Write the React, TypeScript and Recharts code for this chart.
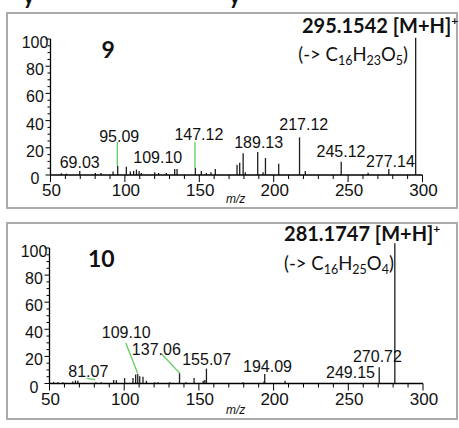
import React from 'react';
import { BarChart, Bar, XAxis, YAxis, ReferenceLine, ReferenceDot } from 'recharts';

// MS/MS spectrum of compound 9 (m/z, relative intensity %)
const mz9 = [57.0, 60.4, 69.4, 79.9, 83.7, 91.8, 94.9, 100.7, 103.4, 105.6, 107.5, 109.3, 110.8, 119.8, 122.4, 127.6, 133.2, 134.8, 147.1, 151.1, 154.5, 157.6, 160.5, 175.1, 176.9, 179.2, 180.7, 189.0, 192.6, 194.2, 203.1, 217.1, 221.0, 245.1, 263.2, 277.1, 295.15];
const int9 = [1.2, 1, 3, 1.5, 1.5, 2.5, 6.6, 6, 2.5, 3, 4, 3, 1.5, 2, 1.5, 1.5, 4.4, 4.4, 5.4, 3, 1.5, 2, 4.4, 7.5, 9, 16, 2, 17, 2, 12.5, 8.3, 27.7, 3, 9.8, 1.7, 4.4, 101];

// MS/MS spectrum of compound 10
const mz10 = [52.7, 55.6, 59.0, 65.6, 67.4, 69.0, 81.07, 84.7, 93.0, 94.8, 100.3, 105.9, 107.7, 109.1, 110.4, 112.6, 114.9, 120.5, 122.7, 130.5, 137.06, 141.3, 146.8, 152.9, 154.0, 155.07, 179.5, 193.6, 194.09, 207.7, 270.72, 281.17];
const int10 = [1, 1, 1, 1.5, 2.2, 2, 1, 1, 2.5, 2.5, 4, 4, 6.6, 7, 5.4, 5, 2, 1, 1, 1, 7.8, 1, 4, 2, 2.5, 11, 1, 1.5, 7, 2, 12, 103.5];

const X_TICKS = [50, 60, 70, 80, 90, 100, 110, 120, 130, 140, 150, 160, 170, 180, 190, 200, 210, 220, 230, 240, 250, 260, 270, 280, 290, 300];
const Y_TICKS = [0, 5, 10, 15, 20, 25, 30, 35, 40, 45, 50, 55, 60, 65, 70, 75, 80, 85, 90, 95, 100];

// peak annotations: text, anchor m/z (centre), anchor intensity (baseline)
const peakLabels9 = [
  { text: '69.03', mz: 69.6, at: 4.9 },
  { text: '95.09', mz: 96.2, at: 24.5 },
  { text: '109.10', mz: 122.1, at: 8.6 },
  { text: '147.12', mz: 149.7, at: 25.7 },
  { text: '189.13', mz: 189.9, at: 19.6 },
  { text: '217.12', mz: 220.2, at: 33.1 },
  { text: '245.12', mz: 245.2, at: 13.5 },
  { text: '277.14', mz: 278.4, at: 6.1 },
];
const peakLabels10 = [
  { text: '81.07', mz: 76.0, at: 4.8 },
  { text: '109.10', mz: 101.4, at: 33.4 },
  { text: '137.06', mz: 121.5, at: 21 },
  { text: '155.07', mz: 155.2, at: 13.7 },
  { text: '194.09', mz: 195.9, at: 8.3 },
  { text: '249.15', mz: 251.5, at: 3.8 },
  { text: '270.72', mz: 269.5, at: 15.6 },
];

// green leader lines [x1, y1, x2, y2]
const leaders9 = [
  [94.9, 6.6, 94.9, 24.3],
  [147.1, 5.4, 147.1, 24.3],
];
const leaders10 = [
  [74.9, 3.8, 80.5, 2.8],
  [101.0, 30.1, 109.0, 7.5],
  [125.1, 21.8, 137.3, 7.5],
];

const FONT = '"Liberation Sans", Arial, sans-serif';
const CAL = 'Lato, "Open Sans", sans-serif';

const Stick = (props: any) => {
  const { x, y, width, height } = props;
  if (!isFinite(x) || !isFinite(y)) return <g />;
  const cx = x + width / 2;
  return <line x1={cx} x2={cx} y1={y} y2={y + height} stroke="#1e1e1e" strokeWidth={1.3} />;
};

const YTick = (props: any) => {
  const { x, y, payload } = props;
  const major = payload.value % 20 === 0;
  return (
    <g>
      <line x1={x - (major ? 5 : 3)} x2={x} y1={y} y2={y} stroke="#000" strokeWidth={1} />
      {major && (
        <text x={x - 15.5} y={y + 9} textAnchor="middle" fontFamily={FONT} fontSize={16} fill="#111">
          {payload.value}
        </text>
      )}
    </g>
  );
};

const XTick = (props: any) => {
  const { x, y, payload } = props;
  const major = payload.value % 50 === 0;
  return (
    <g>
      <line x1={x} x2={x} y1={y} y2={y + (major ? 7 : 4)} stroke="#000" strokeWidth={1} />
      {major && (
        <text x={x + 1} y={y + 21} textAnchor="middle" fontFamily={FONT} fontSize={17} fill="#111">
          {payload.value}
        </text>
      )}
    </g>
  );
};

const peakText = (text: string) => (p: any) => (
  <text x={p.viewBox.x} y={p.viewBox.y} textAnchor="middle" fontFamily={FONT} fontSize={16} fill="#111">
    {text}
  </text>
);

const titleText = (text: string) => (p: any) => (
  <text x={p.viewBox.x} y={p.viewBox.y} textAnchor="middle" fontFamily={CAL} fontWeight={700} fontSize={23} fill="#111">
    {text}
  </text>
);

const ionText = (mass: string) => (p: any) => (
  <text x={p.viewBox.x} y={p.viewBox.y} fontFamily={CAL} fontWeight={700} fontSize={20} fill="#111">
    {mass} [M+H]<tspan dy={-8} fontSize={12}>+</tspan>
  </text>
);

const formulaText = (parts: string[]) => (p: any) => (
  <text x={p.viewBox.x} y={p.viewBox.y} fontFamily={CAL} fontSize={18.5} fill="#111">
    {'(-> C'}
    <tspan dy={4} fontSize={12.5}>{parts[0]}</tspan>
    <tspan dy={-4}>H</tspan>
    <tspan dy={4} fontSize={12.5}>{parts[1]}</tspan>
    <tspan dy={-4}>O</tspan>
    <tspan dy={4} fontSize={12.5}>{parts[2]}</tspan>
    <tspan dy={-4}>)</tspan>
  </text>
);

const Spectrum = ({ mz, inten, labels, leaders, title, titleAt, ion, ionAt, formula, formulaAt, top, height, margin }: any) => {
  const data = mz.map((m: number, i: number) => ({ mz: m, v: inten[i] }));
  return (
    <div style={{ position: 'absolute', left: 0, top }}>
      <BarChart width={459} height={height} data={data} margin={margin} barSize={1}>
        <XAxis
          dataKey="mz"
          type="number"
          domain={[50, 300]}
          ticks={X_TICKS}
          interval={0}
          tickSize={0}
          tickMargin={0}
          tickLine={false}
          tick={XTick}
          axisLine={{ stroke: '#000', strokeWidth: 1.3 }}
          height={30}
        />
        <YAxis
          type="number"
          domain={[0, 105]}
          ticks={Y_TICKS}
          interval={0}
          tickSize={0}
          tickMargin={0}
          tickLine={false}
          tick={YTick}
          axisLine={false}
          width={40}
        />
        <ReferenceLine segment={[{ x: 50, y: 0 }, { x: 50, y: 100 }]} stroke="#000" strokeWidth={1.3} />
        <Bar dataKey="v" shape={Stick} isAnimationActive={false} />
        {leaders.map((l: number[], i: number) => (
          <ReferenceLine
            key={'l' + i}
            segment={[{ x: l[0], y: l[1] }, { x: l[2], y: l[3] }]}
            stroke="#5fcf5f"
            strokeWidth={1.3}
            ifOverflow="visible"
          />
        ))}
        {labels.map((l: any, i: number) => (
          <ReferenceDot key={'p' + i} x={l.mz} y={l.at} r={0} fill="none" stroke="none" ifOverflow="visible" label={peakText(l.text)} />
        ))}
        <ReferenceDot x={titleAt[0]} y={titleAt[1]} r={0} fill="none" stroke="none" ifOverflow="visible" label={titleText(title)} />
        <ReferenceDot x={ionAt[0]} y={ionAt[1]} r={0} fill="none" stroke="none" ifOverflow="visible" label={ionText(ion)} />
        <ReferenceDot x={formulaAt[0]} y={formulaAt[1]} r={0} fill="none" stroke="none" ifOverflow="visible" label={formulaText(formula)} />
      </BarChart>
    </div>
  );
};

const boxStyle = (top: number, height: number): React.CSSProperties => ({
  position: 'absolute',
  left: 6,
  top,
  width: 452,
  height,
  boxSizing: 'border-box',
  border: '2px solid #ababab',
});

const mzStyle = (top: number): React.CSSProperties => ({
  position: 'absolute',
  left: 226,
  top,
  fontFamily: FONT,
  fontStyle: 'italic',
  fontSize: 12,
  color: '#111',
  lineHeight: '14px',
});

export default function App() {
  return (
    <div style={{ position: 'absolute', left: 0, top: 0, width: 459, height: 428, background: '#fff', overflow: 'hidden' }}>
      {/* descenders of the caption line above, cut by the image edge */}
      <svg width={459} height={12} style={{ position: 'absolute', left: 0, top: 0 }}>
        <text x={23} y={3.5} fontFamily={CAL} fontWeight={700} fontSize={22} fill="#111">y</text>
        <text x={229} y={3.5} fontFamily={CAL} fontWeight={700} fontSize={22} fill="#111">y</text>
      </svg>
      <div style={boxStyle(12, 197)} />
      <div style={boxStyle(222, 198)} />
      <Spectrum
        mz={mz9}
        inten={int9}
        labels={peakLabels9}
        leaders={leaders9}
        title="9"
        titleAt={[88.8, 85.8]}
        ion="295.1542"
        ionAt={[219.0, 104.2]}
        formula={['16', '23', '5']}
        formulaAt={[216.5, 83.8]}
        top={0}
        height={214}
        margin={{ top: 32.2, right: 36.5, bottom: 9, left: 10.5 }}
      />
      <Spectrum
        mz={mz10}
        inten={int10}
        labels={peakLabels10}
        leaders={leaders10}
        title="10"
        titleAt={[84.7, 86.2]}
        ion="281.1747"
        ionAt={[207, 105.4]}
        formula={['16', '25', '4']}
        formulaAt={[207, 83.8]}
        top={214}
        height={214}
        margin={{ top: 27.2, right: 36, bottom: 14.5, left: 9.5 }}
      />
      <div style={mzStyle(192)}>m/z</div>
      <div style={mzStyle(403)}>m/z</div>
    </div>
  );
}
